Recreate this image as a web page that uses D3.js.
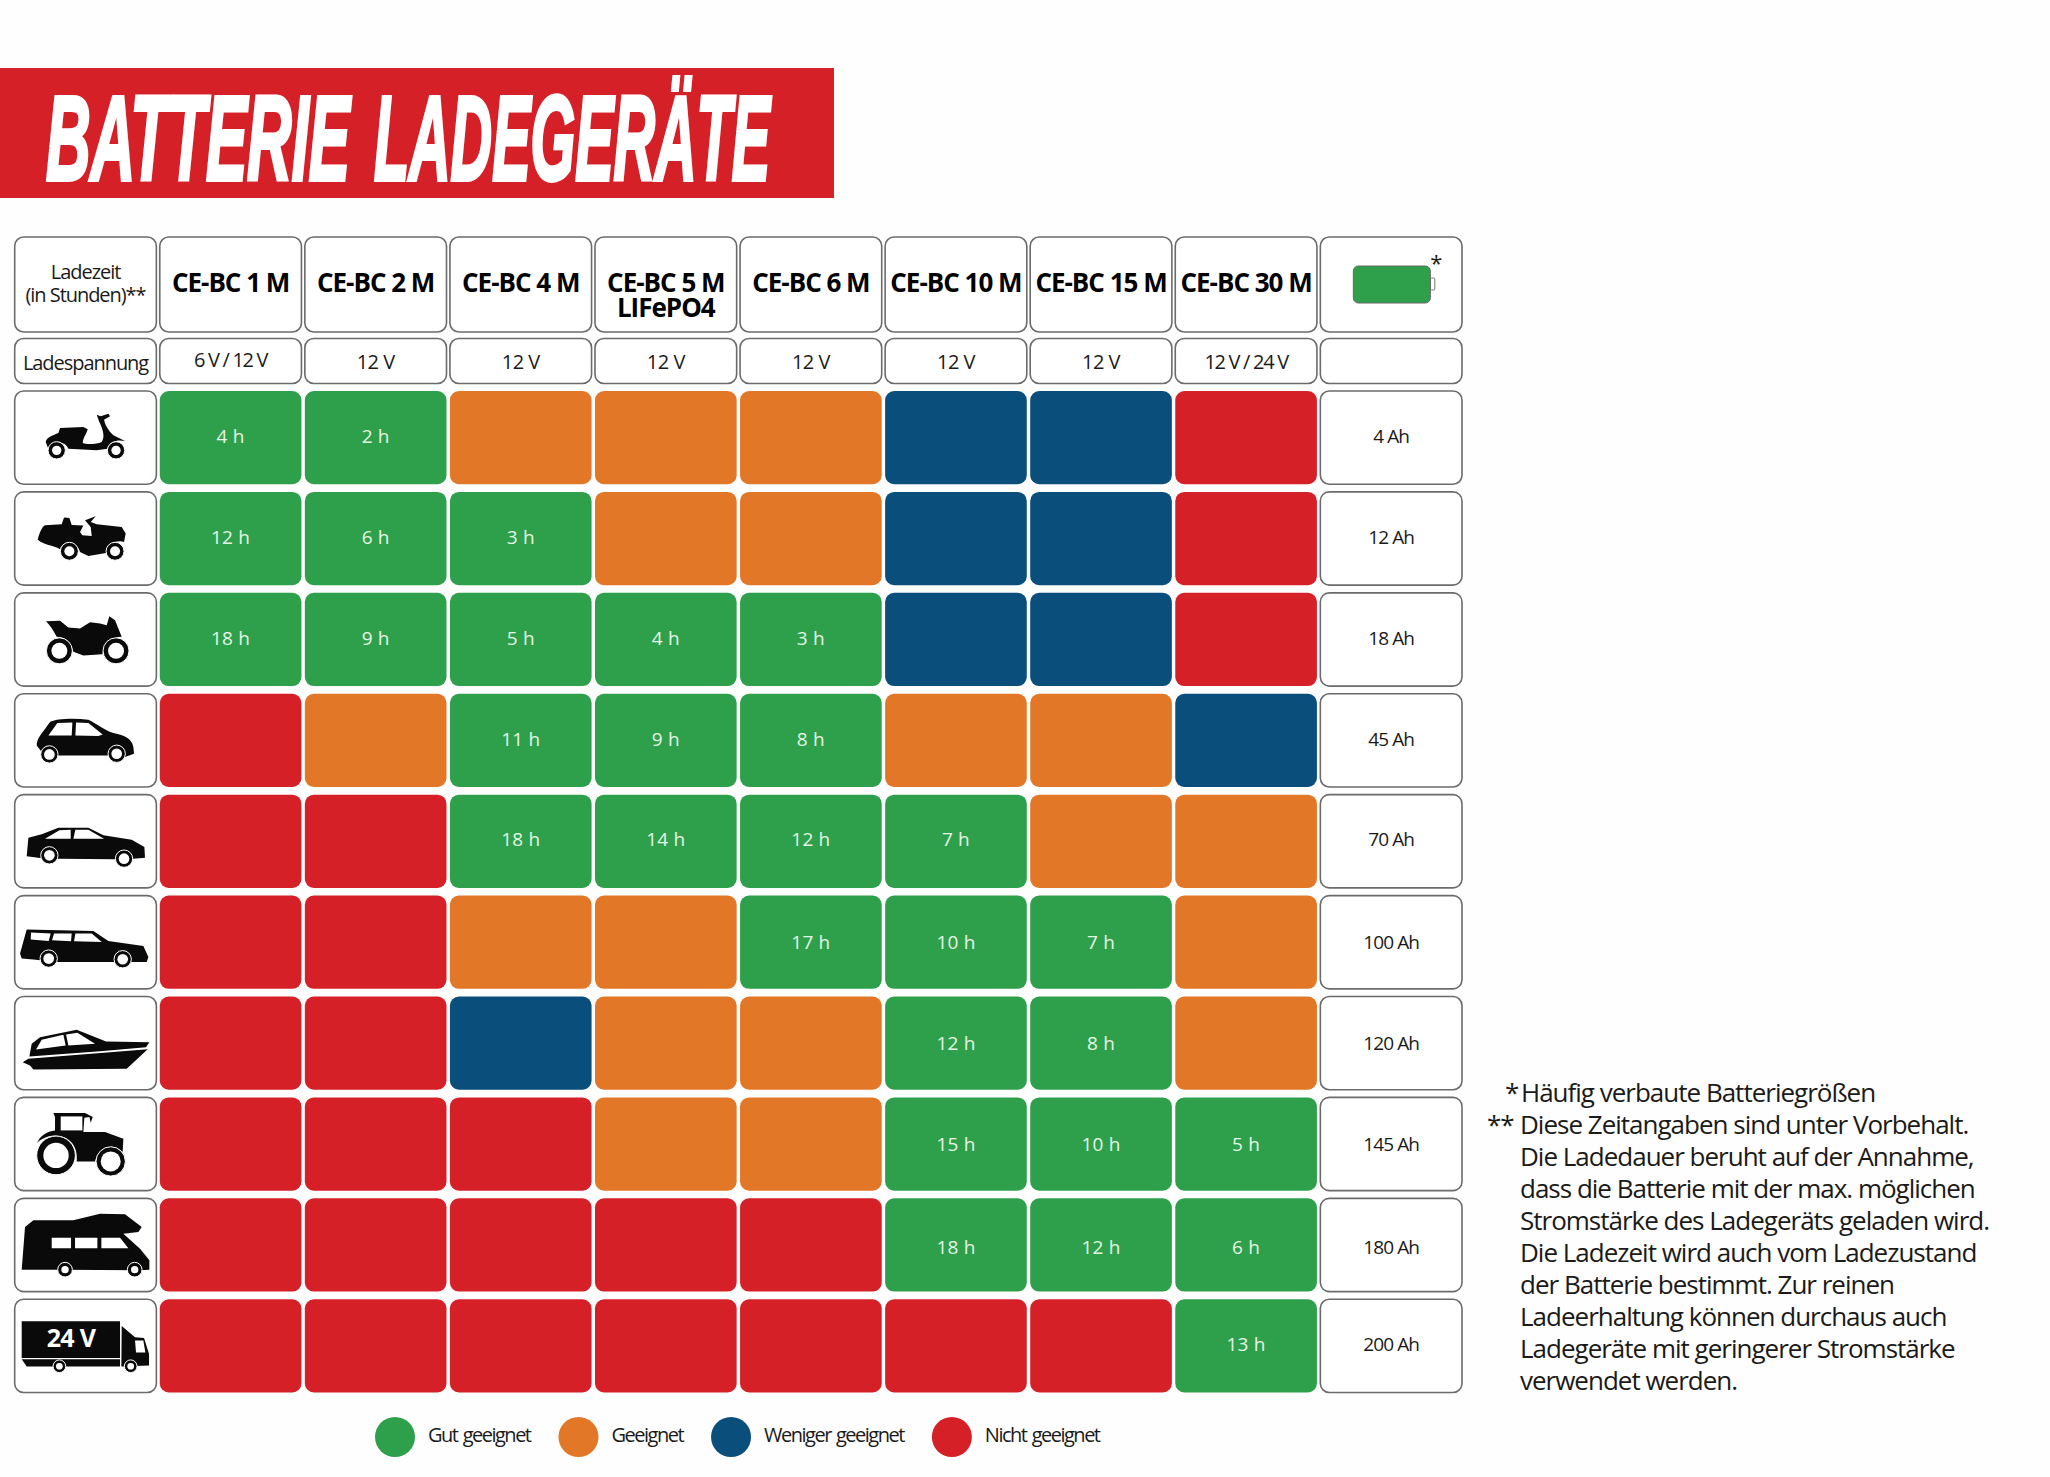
<!DOCTYPE html>
<html lang="de">
<head>
<meta charset="utf-8">
<title>Batterie Ladegeräte</title>
<script src="https://cdn.jsdelivr.net/npm/d3@7"></script>
<style>
  html, body { margin: 0; background: #fefefe; }
  svg { display: block; font-family: "Open Sans", sans-serif; fill: #1a1a1a; }
</style>
</head>
<body>
<svg id="chart" width="2050" height="1477"></svg>
<script>
const chargers = ['CE-BC 1 M', 'CE-BC 2 M', 'CE-BC 4 M', 'CE-BC 5 M|LIFePO4', 'CE-BC 6 M', 'CE-BC 10 M', 'CE-BC 15 M', 'CE-BC 30 M'];
const voltages = ['6 V / 12 V', '12 V', '12 V', '12 V', '12 V', '12 V', '12 V', '12 V / 24 V'];
const vehicles = ['scooter', 'mower', 'motorcycle', 'car', 'sedan', 'estate', 'boat', 'tractor', 'camper', 'truck'];
const capacities = ['4 Ah', '12 Ah', '18 Ah', '45 Ah', '70 Ah', '100 Ah', '120 Ah', '145 Ah', '180 Ah', '200 Ah'];

// g = gut, o = geeignet, b = weniger, r = nicht
const ratings = [
  ['g', 'g', 'o', 'o', 'o', 'b', 'b', 'r'],
  ['g', 'g', 'g', 'o', 'o', 'b', 'b', 'r'],
  ['g', 'g', 'g', 'g', 'g', 'b', 'b', 'r'],
  ['r', 'o', 'g', 'g', 'g', 'o', 'o', 'b'],
  ['r', 'r', 'g', 'g', 'g', 'g', 'o', 'o'],
  ['r', 'r', 'o', 'o', 'g', 'g', 'g', 'o'],
  ['r', 'r', 'b', 'o', 'o', 'g', 'g', 'o'],
  ['r', 'r', 'r', 'o', 'o', 'g', 'g', 'g'],
  ['r', 'r', 'r', 'r', 'r', 'g', 'g', 'g'],
  ['r', 'r', 'r', 'r', 'r', 'r', 'r', 'g']
];
const hours = [
  [4, 2, null, null, null, null, null, null],
  [12, 6, 3, null, null, null, null, null],
  [18, 9, 5, 4, 3, null, null, null],
  [null, null, 11, 9, 8, null, null, null],
  [null, null, 18, 14, 12, 7, null, null],
  [null, null, null, null, 17, 10, 7, null],
  [null, null, null, null, null, 12, 8, null],
  [null, null, null, null, null, 15, 10, 5],
  [null, null, null, null, null, 18, 12, 6],
  [null, null, null, null, null, null, null, 13]
];

const ratingKeys = ['g', 'o', 'b', 'r'];
const ratingLabels = ['Gut geeignet', 'Geeignet', 'Weniger geeignet', 'Nicht geeignet'];
const ratingColors = ['#2ea04b', '#e27728', '#0a4e7b', '#d62027'];

const footnotes = [
  'Diese Zeitangaben sind unter Vorbehalt.',
  'Die Ladedauer beruht auf der Annahme,',
  'dass die Batterie mit der max. möglichen',
  'Stromstärke des Ladegeräts geladen wird.',
  'Die Ladezeit wird auch vom Ladezustand',
  'der Batterie bestimmt. Zur reinen',
  'Ladeerhaltung können durchaus auch',
  'Ladegeräte mit geringerer Stromstärke',
  'verwendet werden.'
];

// the row labels in the original do not sit quite centred
const rowNudge = [5.2, 5.2, 5.2, 5.2, 4.5, 6.5, 6.5, 6.5, 9, 5.2];

// icon outlines, traced at 3x and scaled down when drawn
const icons = {
  scooter: { o: [44, 32],
    body: 'M137 185C140 170 160 165 175 158L180 143 250 140 263 147C260 160 250 170 248 188 260 193 290 192 305 185 315 170 310 150 298 125L290 103 302 108 325 100 330 108 312 118C315 135 325 150 340 165L375 182C355 178 330 180 322 205L290 210 205 205C195 180 160 180 145 205Z',
    wheels: [[170, 210, 26, 14], [348, 210, 26, 14]] },
  mower: { o: [44, 335],
    body: 'M113 478C118 460 125 440 135 435L185 432 192 412 208 413 215 434 250 436 240 455 247 465 275 467 272 440 255 420 287 408 272 425 290 432 365 440 377 460 372 485C355 480 325 485 318 518L265 527 240 515C235 490 190 475 180 507 160 495 130 495 113 478Z',
    wheels: [[208, 513, 27, 15], [345, 513, 27, 15]] },
  motorcycle: { o: [44, 638],
    body: 'M138 723L180 722 205 742 240 745 270 726 300 730 320 735 328 708 345 720 365 770C335 770 310 790 307 822L250 826 220 815C215 790 200 770 170 770 160 750 150 735 138 723Z',
    wheels: [[178, 812, 39, 24], [348, 812, 39, 24]] },
  car: { o: [44, 940],
    body: 'M110 1095C110 1075 125 1060 150 1025 165 1015 220 1012 265 1018 290 1030 315 1050 340 1058 375 1065 395 1075 400 1100L402 1120 375 1130 325 1125 175 1125 125 1115Z',
    holes: 'M145 1065L172 1028 217 1026 215 1065ZM226 1065L228 1026 265 1028 308 1062 295 1067Z',
    wheels: [[148, 1122, 26, 16], [350, 1120, 26, 16]] },
  sedan: { o: [44, 43],
    body: 'M80 228L85 172 125 162 175 142 265 142 310 165 395 178 433 200 435 232 400 235 345 237 175 235 120 233Z',
    holes: 'M135 175L178 150 212 148 212 175ZM220 175L226 148 265 148 312 175Z',
    wheels: [[148, 225, 26, 16], [372, 235, 26, 16]] },
  estate: { o: [44, 346],
    body: 'M60 520L80 448 280 452 325 482 430 497 445 530 440 545 395 545 170 545 100 538 65 535Z',
    holes: 'M93 457L152 460 146 482 92 478ZM162 460L215 460 213 483 156 480ZM226 460L275 460 305 485 222 483Z',
    wheels: [[146, 535, 26, 16], [368, 537, 26, 16]] },
  boat: { o: [44, 648],
    body: 'M88 828L95 790 120 770 230 748 318 783 448 785 438 800 300 812ZM68 845L85 835 443 806 380 865 100 867 90 855Z',
    holes: 'M108 807L125 778 190 763 197 795ZM205 795L198 762 232 757 285 790Z',
    wheels: [] },
  tractor: { o: [44, 951],
    body: 'M160 998L255 998 278 1010 272 1027 268 1010 253 1012 250 1055 315 1055 370 1075 368 1115C340 1085 295 1100 285 1143L230 1143C235 1100 210 1065 165 1065 140 1065 115 1080 110 1090 120 1065 140 1053 165 1050L165 1010Z',
    holes: 'M182 1008L247 1008 247 1050 182 1050Z',
    wheels: [[168, 1125, 58, 38], [332, 1143, 44, 30]] },
  camper: { o: [44, 54],
    body: 'M65 268L75 140 100 120 220 120 300 100 375 102 425 140 415 155 370 160 420 205 448 240 448 268 420 270 180 268Z',
    holes: 'M155 172L213 172 213 204 155 204ZM225 172L292 172 292 204 225 204ZM304 172L360 172 385 204 304 204Z',
    wheels: [[195, 268, 22, 11], [404, 268, 22, 11]] },
  truck: { o: [44, 356],
    body: 'M65 422L360 422 360 532 65 532ZM65 536L360 536 360 558 80 558ZM365 436L405 470 432 472 447 520 447 555 364 558Z',
    holes: 'M405 480L430 480 436 516 408 516Z',
    wheels: [[178, 557, 19, 10], [392, 557, 19, 10]],
    label: ['24 V', 213, 500] }
};

const svg = d3.select('#chart');

// banner, two words squeezed to the width of the original lettering
svg.append('rect').attr('x', 0).attr('y', 68).attr('width', 834).attr('height', 130).attr('fill', '#d62027');
[['BATTERIE', 46, 304], ['LADEGERÄTE', 374, 396]].forEach(w => {
  const t = svg.append('text')
    .style('font-family', '"Liberation Sans", sans-serif')
    .style('font-weight', 700).style('font-style', 'italic').style('font-size', '121px')
    .style('fill', '#fff').style('stroke', '#fff').style('stroke-width', 4)
    .text(w[0]);
  const sx = w[2] / t.node().getComputedTextLength();
  t.attr('transform', `translate(${w[1]},180) scale(${sx},1)`);
});

// scales
const columns = ['head', ...chargers, 'capacity'];
const x = d3.scaleBand().domain(columns).range([14.7, 1462]).paddingInner(0.0235);
const y = d3.scaleBand().domain(vehicles).range([391, 1392.5]).paddingInner(0.076);
const color = d3.scaleOrdinal().domain(ratingKeys).range(ratingColors);

function box(g, left, top, w, h) {
  return g.append('rect').attr('x', left).attr('y', top).attr('width', w).attr('height', h)
    .attr('rx', 9).attr('fill', '#fff').attr('stroke', '#6b6b6b').attr('stroke-width', 1.6);
}

const headTop = 237, headH = 95, voltTop = 338.5, voltH = 45;
const small = { size: '20px', spacing: '-1.05px' };

function label(parent, cx, base, txt, opts) {
  return parent.append('text')
    .attr('x', cx).attr('y', base)
    .attr('text-anchor', 'middle')
    .style('font-size', opts.size)
    .style('letter-spacing', opts.spacing)
    .style('font-weight', opts.weight || 400)
    .style('fill', opts.fill || null)
    .text(txt);
}

// header rows
const header = svg.append('g');
columns.forEach(c => {
  box(header, x(c), headTop, x.bandwidth(), headH);
  box(header, x(c), voltTop, x.bandwidth(), voltH);
});
const headCx = x('head') + x.bandwidth() / 2;
label(header, headCx, 279, 'Ladezeit', small);
label(header, headCx, 302, '(in Stunden)**', small);
label(header, headCx, 370, 'Ladespannung', small);

chargers.forEach((c, i) => {
  const cx = x(c) + x.bandwidth() / 2;
  const name = label(header, cx, 292, null, { size: '26px', spacing: '-1px', weight: 700, fill: '#000' });
  c.split('|').forEach((line, k) => {
    name.append('tspan').attr('x', cx).attr('dy', k ? 25 : 0).text(line);
  });
  const slashed = voltages[i].includes('/');
  label(header, cx, i === 0 ? 367 : 369, voltages[i], { size: '20px', spacing: slashed ? '-1.3px' : '-0.5px' });
});

// battery symbol
const batX = x('capacity') + 33;
header.append('rect').attr('x', batX + 77).attr('y', 278).attr('width', 4.5).attr('height', 12)
  .attr('rx', 1).attr('fill', '#fff').attr('stroke', '#777').attr('stroke-width', 1);
header.append('rect').attr('x', batX).attr('y', 266).attr('width', 77).attr('height', 37)
  .attr('rx', 5).attr('fill', color('g')).attr('stroke', '#666').attr('stroke-width', 1);
label(header, batX + 83, 271, '*', { size: '22px', spacing: '0' });

// rating cells
const cells = vehicles.flatMap((v, r) => chargers.map((c, k) => ({
  vehicle: v, row: r, charger: c, rating: ratings[r][k], hours: hours[r][k]
})));

svg.append('g').selectAll('rect').data(cells).join('rect')
  .attr('x', d => x(d.charger))
  .attr('y', d => y(d.vehicle))
  .attr('width', x.bandwidth())
  .attr('height', y.bandwidth())
  .attr('rx', 9)
  .attr('fill', d => color(d.rating));

svg.append('g').selectAll('text').data(cells.filter(d => d.hours !== null)).join('text')
  .attr('x', d => x(d.charger) + x.bandwidth() / 2)
  .attr('y', d => y(d.vehicle) + y.bandwidth() / 2 + rowNudge[d.row])
  .attr('text-anchor', 'middle')
  .style('font-size', '19px')
  .style('letter-spacing', '0.2px')
  .style('fill', '#e6f6e6')
  .text(d => d.hours + ' h');

// left and right boxes
const side = svg.append('g');
vehicles.forEach((v, r) => {
  box(side, x('head'), y(v), x.bandwidth(), y.bandwidth());
  box(side, x('capacity'), y(v), x.bandwidth(), y.bandwidth());
  label(side, x('capacity') + x.bandwidth() / 2, y(v) + y.bandwidth() / 2 + rowNudge[r], capacities[r], { size: '19px', spacing: '-0.9px' });

  const ic = icons[v];
  const g = side.append('g')
    .attr('transform', `translate(${x('head')},${y(v)}) scale(${1 / 3}) translate(${-ic.o[0]},${-ic.o[1]})`);
  g.append('path').attr('d', ic.body).attr('fill', '#0a0a0a');
  if (ic.holes) g.append('path').attr('d', ic.holes).attr('fill', '#fff');
  ic.wheels.forEach(w => {
    g.append('circle').attr('cx', w[0]).attr('cy', w[1]).attr('r', w[2]).attr('fill', '#0a0a0a').attr('stroke', '#fff').attr('stroke-width', 3);
    g.append('circle').attr('cx', w[0]).attr('cy', w[1]).attr('r', w[3]).attr('fill', '#fff');
  });
  if (ic.label) {
    g.append('text').attr('x', ic.label[1]).attr('y', ic.label[2]).attr('text-anchor', 'middle')
      .style('font-size', '75px').style('font-weight', 700).style('letter-spacing', '-2px').style('fill', '#fff')
      .text(ic.label[0]);
  }
});

// legend, laid out from the measured label widths
const legend = svg.append('g');
let legendX = 375;
ratingKeys.forEach((k, i) => {
  legend.append('circle').attr('cx', legendX + 20).attr('cy', 1437).attr('r', 20).attr('fill', color(k));
  const t = legend.append('text').attr('x', legendX + 53).attr('y', 1442)
    .style('font-size', '20px').style('letter-spacing', '-1.5px').style('word-spacing', '1.5px')
    .text(ratingLabels[i]);
  legendX += 53 + t.node().getComputedTextLength() + 28;
});

// footnotes
const notes = svg.append('g').style('font-size', '26px').style('letter-spacing', '-1px').style('font-weight', 400);
notes.append('text').attr('x', 1505).attr('y', 1101.5).text('*');
notes.append('text').attr('x', 1521).attr('y', 1101.5).text('Häufig verbaute Batteriegrößen');
notes.append('text').attr('x', 1487).attr('y', 1133.5).text('**');
notes.selectAll('text.line').data(footnotes).join('text')
  .attr('class', 'line')
  .attr('x', 1520)
  .attr('y', (d, i) => 1133.5 + i * 32.1)
  .text(d => d);
</script>
</body>
</html>
